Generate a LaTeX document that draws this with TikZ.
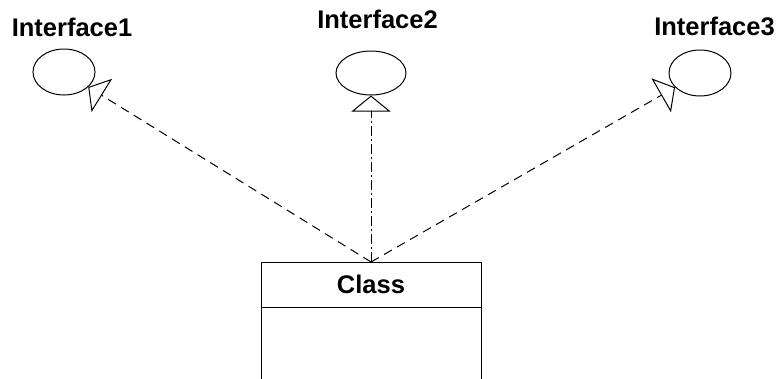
\documentclass[tikz,border=0pt]{standalone}
\usepackage{fontspec}
\setmainfont{Liberation Sans}
\usetikzlibrary{shapes.geometric,arrows.meta,positioning}

\begin{document}
\begin{tikzpicture}[x=1pt,y=-1pt,line width=1pt,
  iface/.style={draw, ellipse, inner sep=0pt, minimum width=62pt, minimum height=46pt},
  title/.style={anchor=base, font=\fontsize{25.5}{30}\selectfont\bfseries},
  classbox/.style={draw, rectangle, outer sep=0pt, minimum width=220pt},
  realize/.style={-{Triangle[open,length=16pt,width=39pt]}, dash pattern=on 9pt off 6pt},
  realizedot/.style={realize, dash pattern=on 10pt off 3pt on 2pt off 3pt}]
\useasboundingbox (0,0) rectangle (782,378);

% interfaces
\node[title] (lbl1) at (72,36) {Interface1};
\node[title] (lbl2) at (377.5,28) {Interface2};
\node[title] (lbl3) at (714.5,35) {Interface3};
\node[iface] (if1) at (64,72) {};
\node[iface, minimum width=70pt, minimum height=44pt] (if2) at (371,73) {};
\node[iface] (if3) at (700,73) {};

% class
\node[classbox, minimum height=45pt, font=\fontsize{25.5}{30}\selectfont\bfseries] (class) at (371,284.5) {Class};
\node[classbox, minimum height=90pt, below=0pt of class] (body) {};

% realizations
\draw[realize] (class.north) -- (if1);
\draw[realizedot] (class.north) -- (if2);
\draw[realize] (class.north) -- (if3);
\end{tikzpicture}
\end{document}
